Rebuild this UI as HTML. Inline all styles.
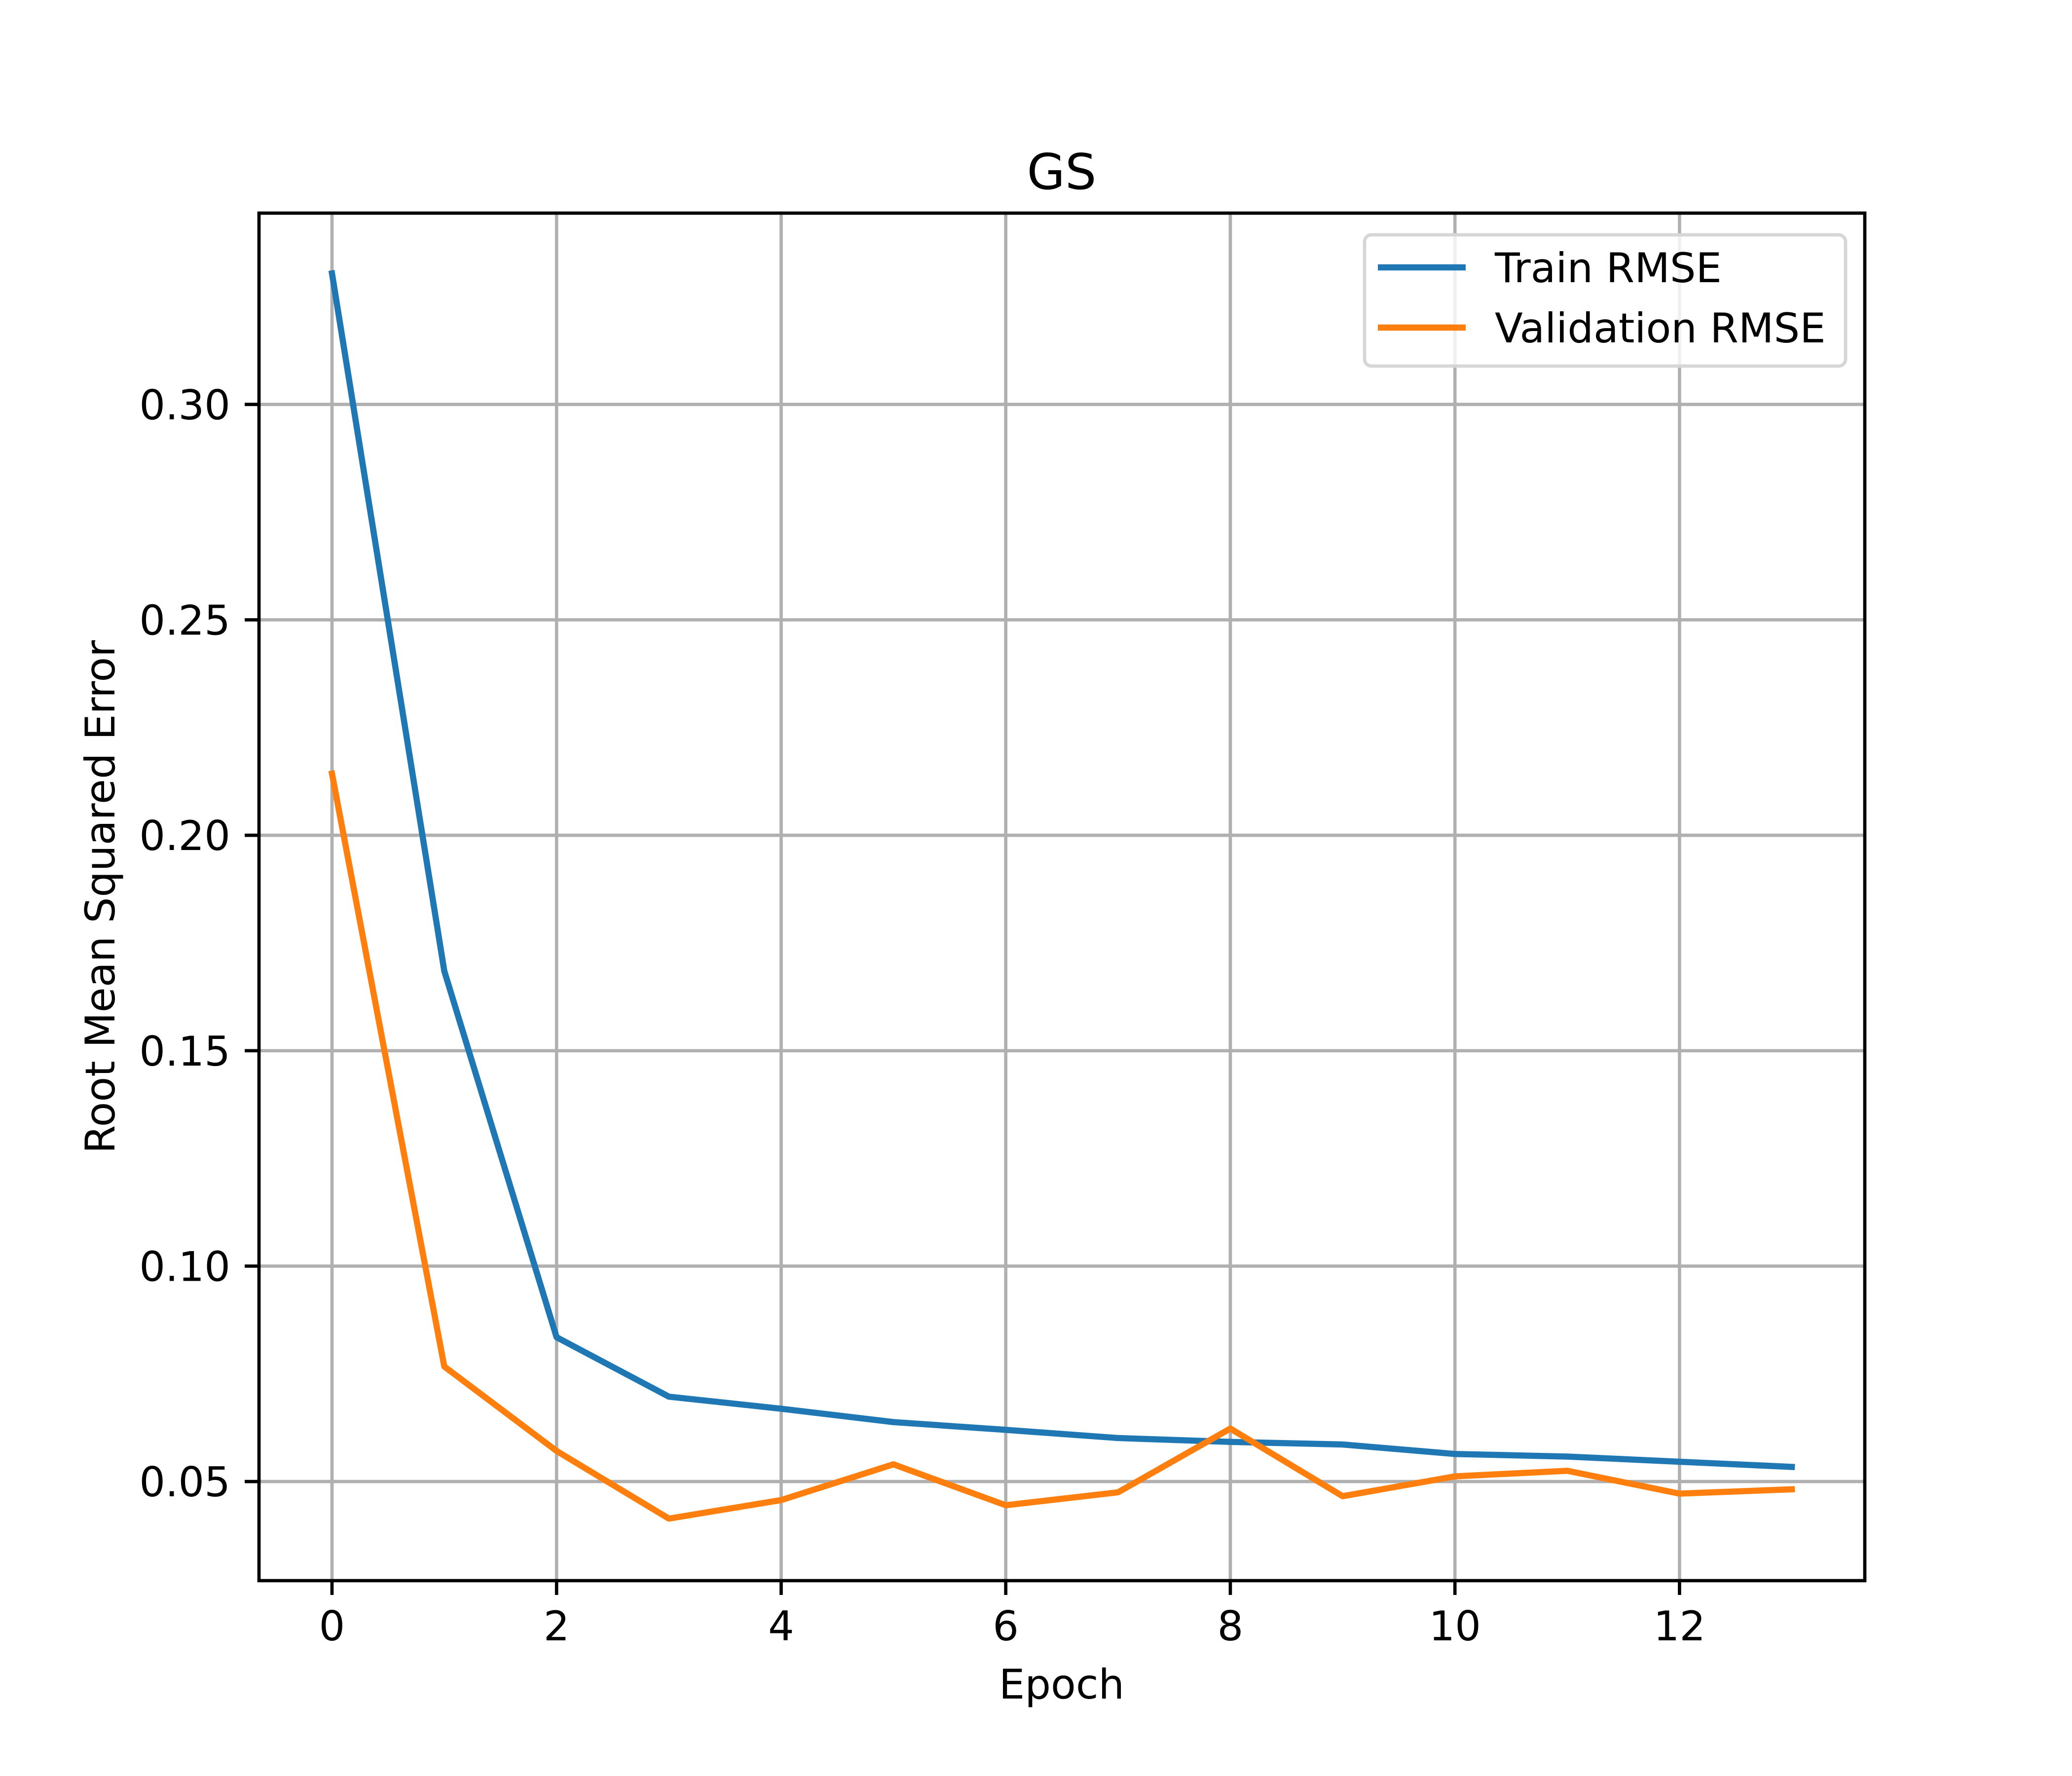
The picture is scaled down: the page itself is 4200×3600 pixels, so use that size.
<!DOCTYPE html>
<html><head><meta charset="utf-8"><style>
html,body{margin:0;padding:0;background:#fff}
svg{display:block}
text{font-family:"DejaVu Sans","Liberation Sans",sans-serif;fill:#000}
</style></head><body>
<svg id="chart" width="4200" height="3600" viewBox="0 0 4200 3600" xmlns="http://www.w3.org/2000/svg">
<rect width="4200" height="3600" fill="#fff"/>
<g id="grid"></g>
<g id="series"></g>
<rect x="525" y="432" width="3255" height="2772" fill="none" stroke="#000" stroke-width="6.67"/>
<g id="ticks"></g>
<text x="2152" y="383" font-size="100" text-anchor="middle">GS</text>
<text x="2152" y="3443" font-size="83" text-anchor="middle">Epoch</text>
<text x="0" y="0" font-size="83" text-anchor="middle" transform="translate(232,1818) rotate(-90)">Root Mean Squared Error</text>
<g>
<rect x="2766" y="476" width="975" height="266" rx="14" fill="#fff" fill-opacity="0.8" stroke="#d6d6d6" stroke-width="6.67"/>
<line x1="2793" y1="542" x2="2971" y2="542" stroke="#1f77b4" stroke-width="12.5"/>
<text x="3030" y="572" font-size="83">Train RMSE</text>
<line x1="2793" y1="664" x2="2971" y2="664" stroke="#ff7f0e" stroke-width="12.5"/>
<text x="3030" y="694" font-size="83">Validation RMSE</text>
</g>
</svg>
<script>
const epochs = [0,1,2,3,4,5,6,7,8,9,10,11,12,13];
const trainRmse = [0.3304,0.1685,0.0835,0.0697,0.0669,0.0638,0.0620,0.0601,0.0592,0.0586,0.0564,0.0558,0.0546,0.0534];
const valRmse = [0.2143,0.0767,0.0571,0.0414,0.0457,0.0540,0.0445,0.0475,0.0623,0.0466,0.0512,0.0525,0.0472,0.0482];
const xTicks = [0,2,4,6,8,10,12];
const yTicks = [0.05,0.10,0.15,0.20,0.25,0.30];
const yTickLabels = ["0.05","0.10","0.15","0.20","0.25","0.30"];

const NS = "http://www.w3.org/2000/svg";
const L=525,R=3780,T=432,B=3204;
const xMin=-0.65,xMax=13.65,yMin=0.0270,yMax=0.3444;
const xs = v => L+(v-xMin)/(xMax-xMin)*(R-L);
const ys = v => B-(v-yMin)/(yMax-yMin)*(B-T);
function mk(tag, attrs, parent){const e=document.createElementNS(NS,tag);for(const k in attrs)e.setAttribute(k,attrs[k]);parent.appendChild(e);return e;}
const grid=document.getElementById('grid'), ticks=document.getElementById('ticks'), series=document.getElementById('series');
xTicks.forEach(t=>{
  const x=xs(t);
  const g=mk('line',{x1:x,y1:T,x2:x,y2:B,stroke:'#b0b0b0','stroke-width':6.67},grid);
  
  
  const tk=mk('line',{x1:x,y1:B,x2:x,y2:B+29,stroke:'#000','stroke-width':6.67},ticks);
  
  
  const tx=mk('text',{x:x,y:B+121,'font-size':83,'text-anchor':'middle'},ticks);
  tx.textContent=String(t);
  
  
});
yTicks.forEach((t,i)=>{
  const y=ys(t);
  const g=mk('line',{x1:L,y1:y,x2:R,y2:y,stroke:'#b0b0b0','stroke-width':6.67},grid);
  
  
  const tk=mk('line',{x1:L-29,y1:y,x2:L,y2:y,stroke:'#000','stroke-width':6.67},ticks);
  
  
  const tx=mk('text',{x:L-58,y:y+30,'font-size':83,'text-anchor':'end'},ticks);
  tx.textContent=yTickLabels[i];
  
  
});
function line(vals,color,name){
  const pts=vals.map((v,i)=>xs(epochs[i])+','+ys(v)).join(' ');
  const p=mk('polyline',{points:pts,fill:'none',stroke:color,'stroke-width':12.5,'stroke-linecap':'square','stroke-linejoin':'round'},series);
  
  
}
line(trainRmse,'#1f77b4','train-rmse-line');
line(valRmse,'#ff7f0e','validation-rmse-line');
</script>
</body></html>
